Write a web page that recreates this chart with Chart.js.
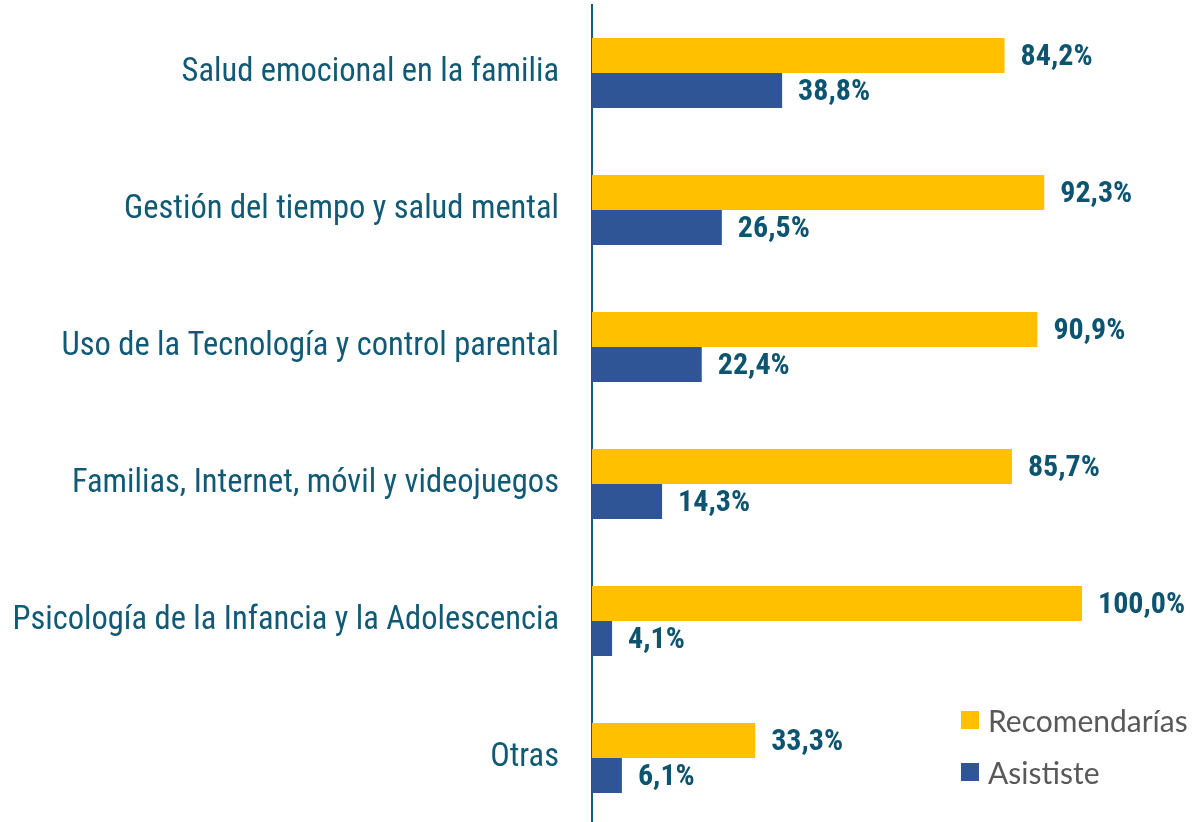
<!DOCTYPE html>
<html>
<head>
<meta charset="utf-8">
<script src="https://cdn.jsdelivr.net/npm/chart.js@4"></script>
<style>
  body { margin: 0; background: #fff; overflow: hidden; }
  .wrap { position: relative; width: 1204px; height: 822px; overflow: hidden; }
  .legend { position: absolute; left: 961px; height: 30px; font-family: Lato, 'Open Sans', sans-serif; font-size: 30px; color: #595959; display: flex; align-items: center; }
  .legend span.sw { width: 18px; height: 18px; display: inline-block; margin-right: 9px; }
</style>
</head>
<body>
<div class="wrap">
  <div style="position:absolute;left:0;top:0;width:1204px;height:832px"><canvas id="c"></canvas></div>
  <div class="legend" style="top:705px"><span class="sw" style="background:#FFC000"></span>Recomendarías</div>
  <div class="legend" style="top:757px"><span class="sw" style="background:#2F5597"></span>Asististe</div>
</div>
<script>
const categories = ['Salud emocional en la familia', 'Gestión del tiempo y salud mental', 'Uso de la Tecnología y control parental', 'Familias, Internet, móvil y videojuegos', 'Psicología de la Infancia y la Adolescencia', 'Otras'];
const recomendarias = [84.2, 92.3, 90.9, 85.7, 100.0, 33.3];
const asististe = [38.8, 26.5, 22.4, 14.3, 4.1, 6.1];

const condensed = "'Liberation Sans Narrow', 'Roboto Condensed', 'Arial Narrow', sans-serif";

// etiquetas de valor a la derecha de cada barra
const valueLabels = {
  id: 'valueLabels',
  afterDatasetsDraw(chart) {
    const ctx = chart.ctx;
    ctx.save();
    ctx.font = 'bold 30px ' + condensed;
    ctx.fillStyle = '#0D5470';
    ctx.textBaseline = 'middle';
    chart.data.datasets.forEach((ds, i) => {
      chart.getDatasetMeta(i).data.forEach((bar, j) => {
        const txt = ds.data[j].toFixed(1).replace('.', ',') + '%';
        ctx.fillText(txt, bar.x + 16, bar.y + 2);
      });
    });
    ctx.restore();
  }
};

new Chart(document.getElementById('c'), {
  type: 'bar',
  data: {
    labels: categories,
    datasets: [
      { label: 'Recomendarías', data: recomendarias, backgroundColor: '#FFC000', categoryPercentage: 0.511, barPercentage: 1 },
      { label: 'Asististe', data: asististe, backgroundColor: '#2F5597', categoryPercentage: 0.511, barPercentage: 1 }
    ]
  },
  options: {
    indexAxis: 'y',
    responsive: true,
    maintainAspectRatio: false,
    animation: false,
    layout: { padding: { top: 4.5, bottom: 5.5, right: 122, left: 0 } },
    plugins: { legend: { display: false }, tooltip: { enabled: false } },
    scales: {
      x: { display: false, min: 0, max: 100 },
      y: {
        afterFit: s => { s.width = 592; s.paddingTop = 0; s.paddingBottom = 0; },
        grid: { display: false, drawTicks: false },
        border: { display: true, color: '#0E6179', width: 2 },
        ticks: { padding: 33, color: '#115A75', font: { family: condensed, size: 32.5 } }
      }
    }
  },
  plugins: [valueLabels]
});
</script>
</body>
</html>
